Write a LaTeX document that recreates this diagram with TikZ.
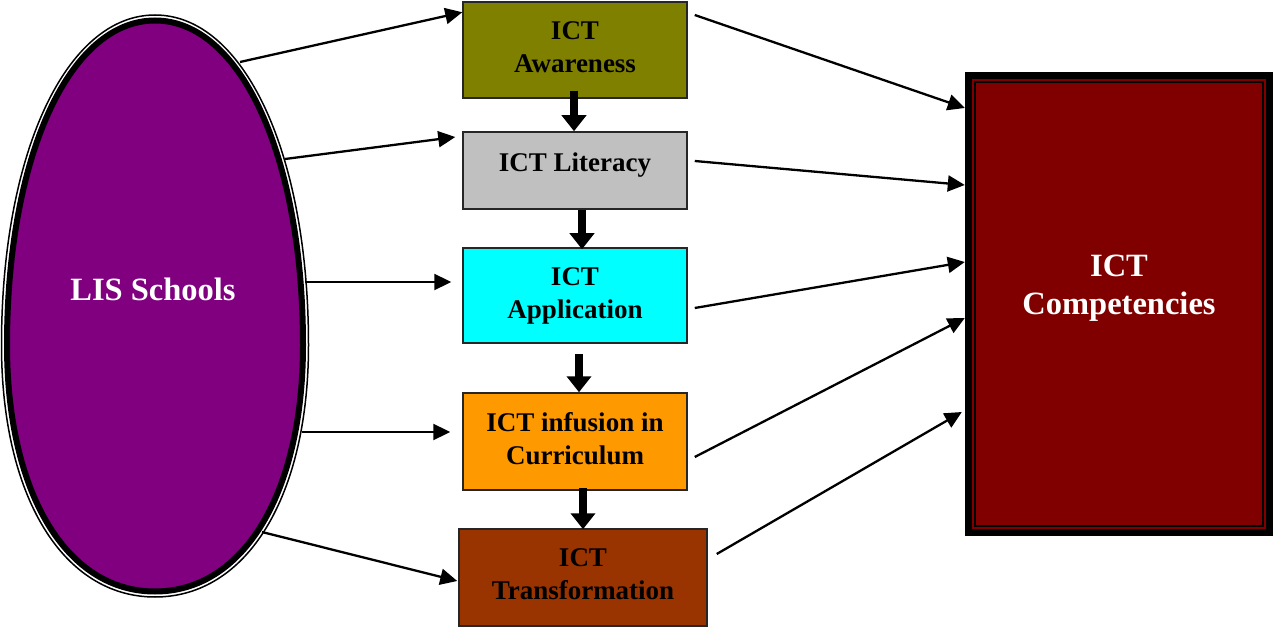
\documentclass[tikz,border=0pt]{standalone}
\usepackage{fontspec}
\setmainfont{Liberation Serif}
\usetikzlibrary{arrows.meta,calc}
\definecolor{cOlive}{HTML}{808000}
\definecolor{cSilver}{HTML}{C0C0C0}
\definecolor{cCyan}{HTML}{00FFFF}
\definecolor{cOrange}{HTML}{FF9900}
\definecolor{cBrown}{HTML}{993300}
\definecolor{cPurple}{HTML}{800080}
\definecolor{cDarkRed}{HTML}{800000}
\newcommand\mysetegg[1]{%
  \pgfmathsetmacro\eggrx{153.5-#1}%
  \pgfmathsetmacro\eggryt{330-#1}%
  \pgfmathsetmacro\eggryb{252-#1}}
\newcommand\myeggpath{%
  (155,{345-\eggryt}) .. controls ({155+0.58*\eggrx},{345-\eggryt}) and ({155+\eggrx},{345-0.58*\eggryt}) ..
  ({155+\eggrx},345) .. controls ({155+\eggrx},{345+0.6*\eggryb}) and ({155+0.6*\eggrx},{345+\eggryb}) ..
  (155,{345+\eggryb}) .. controls ({155-0.6*\eggrx},{345+\eggryb}) and ({155-\eggrx},{345+0.6*\eggryb}) ..
  ({155-\eggrx},345) .. controls ({155-\eggrx},{345-0.58*\eggryt}) and ({155-0.58*\eggrx},{345-\eggryt}) .. cycle}
\begin{document}
\begin{tikzpicture}[x=1pt,y=-1pt,
  box/.style={draw=black!85, line width=1.5pt, inner sep=0pt},
  boxtext/.style={inner sep=0pt, align=center, font=\fontsize{27}{33}\selectfont\bfseries},
  thinarrow/.style={line width=2.3pt, -{Triangle[length=17pt,width=16pt]}},
  fatarrow/.style={line width=8pt, -{Triangle[length=16pt,width=24pt]}},
  bigtext/.style={text=white, align=center, font=\fontsize{32.5}{38}\selectfont\bfseries}]
\useasboundingbox (0,0) rectangle (1274,628);

% LIS Schools egg shape
\mysetegg{0}
\draw[black, line width=1.5pt] \myeggpath;
\mysetegg{5.5}
\draw[black, line width=6pt, fill=cPurple] \myeggpath;
\node[bigtext] (ls) at (153,289) {LIS Schools};

% boxes
\node[box, fill=cOlive, minimum width=224pt, minimum height=96pt,
  label={[boxtext, yshift=3pt]center:ICT\\Awareness}] (aw) at (575,50) {};
\node[box, fill=cSilver, minimum width=224pt, minimum height=77pt,
  label={[boxtext, yshift=5pt]center:ICT Literacy}] (lit) at (575,170.5) {};
\node[box, fill=cCyan, minimum width=224pt, minimum height=95pt,
  label={[boxtext, yshift=0pt]center:ICT\\Application}] (app) at (575,295.5) {};
\node[box, fill=cOrange, minimum width=224pt, minimum height=97pt,
  label={[boxtext, yshift=3pt]center:ICT infusion in\\Curriculum}] (inf) at (575,441.5) {};
\node[box, fill=cBrown, minimum width=248pt, minimum height=97pt,
  label={[boxtext, yshift=3pt]center:ICT\\Transformation}] (tr) at (583,577.5) {};

% competencies box
\node[fill=black, minimum width=308pt, minimum height=464pt, inner sep=0pt] (comp) at (1119,304) {};
\fill[cDarkRed] ($(comp.north west)+(7,7)$) rectangle ($(comp.south east)+(-7,-7)$);
\draw[black, line width=1.5pt, fill=cDarkRed] ($(comp.north west)+(10,10)$) rectangle ($(comp.south east)+(-10,-10)$);
\node[bigtext] (comptext) at (1119,288) {ICT\\Competencies};

% start points on the egg
\coordinate (s1) at (240,62);
\coordinate (s2) at (285,159);
\coordinate (s3) at (305,282);
\coordinate (s4) at (302,432);
\coordinate (s5) at (262,532);

% left arrows
\draw[thinarrow] (s1) -- ($(aw.north west)+(0,11)$);
\draw[thinarrow] (s2) -- ($(lit.west)+(-7,-33.5)$);
\draw[thinarrow] (s3) -- ($(app.west)+(-11,-13.5)$);
\draw[thinarrow] (s4) -- ($(inf.west)+(-12,-9.5)$);
\draw[thinarrow] (s5) -- ($(tr.west)+(-1,3.5)$);

% right arrows
\draw[thinarrow] ($(aw.east)+(7,-35)$) -- ($(comp.west)+(0,-196)$);
\draw[thinarrow] ($(lit.east)+(7,-9.5)$) -- ($(comp.west)+(0,-119)$);
\draw[thinarrow] ($(app.east)+(7,12.5)$) -- ($(comp.west)+(0,-42)$);
\draw[thinarrow] ($(inf.east)+(7,15.5)$) -- ($(comp.west)+(0,14)$);
\draw[thinarrow] ($(tr.east)+(9,-23.5)$) -- ($(comp.west)+(-3,108)$);

% down arrows
\draw[fatarrow] ($(aw.south)+(-1,-8)$) -- ($(lit.north)+(-1,0)$);
\draw[fatarrow] ($(lit.south)+(7,0)$) -- ($(app.north)+(7,2)$);
\draw[fatarrow] ($(app.south)+(4,10)$) -- ($(inf.north)+(4,0)$);
\draw[fatarrow] ($(inf.south)+(8,-3)$) -- ($(tr.north)+(0,1)$);
\end{tikzpicture}
\end{document}
